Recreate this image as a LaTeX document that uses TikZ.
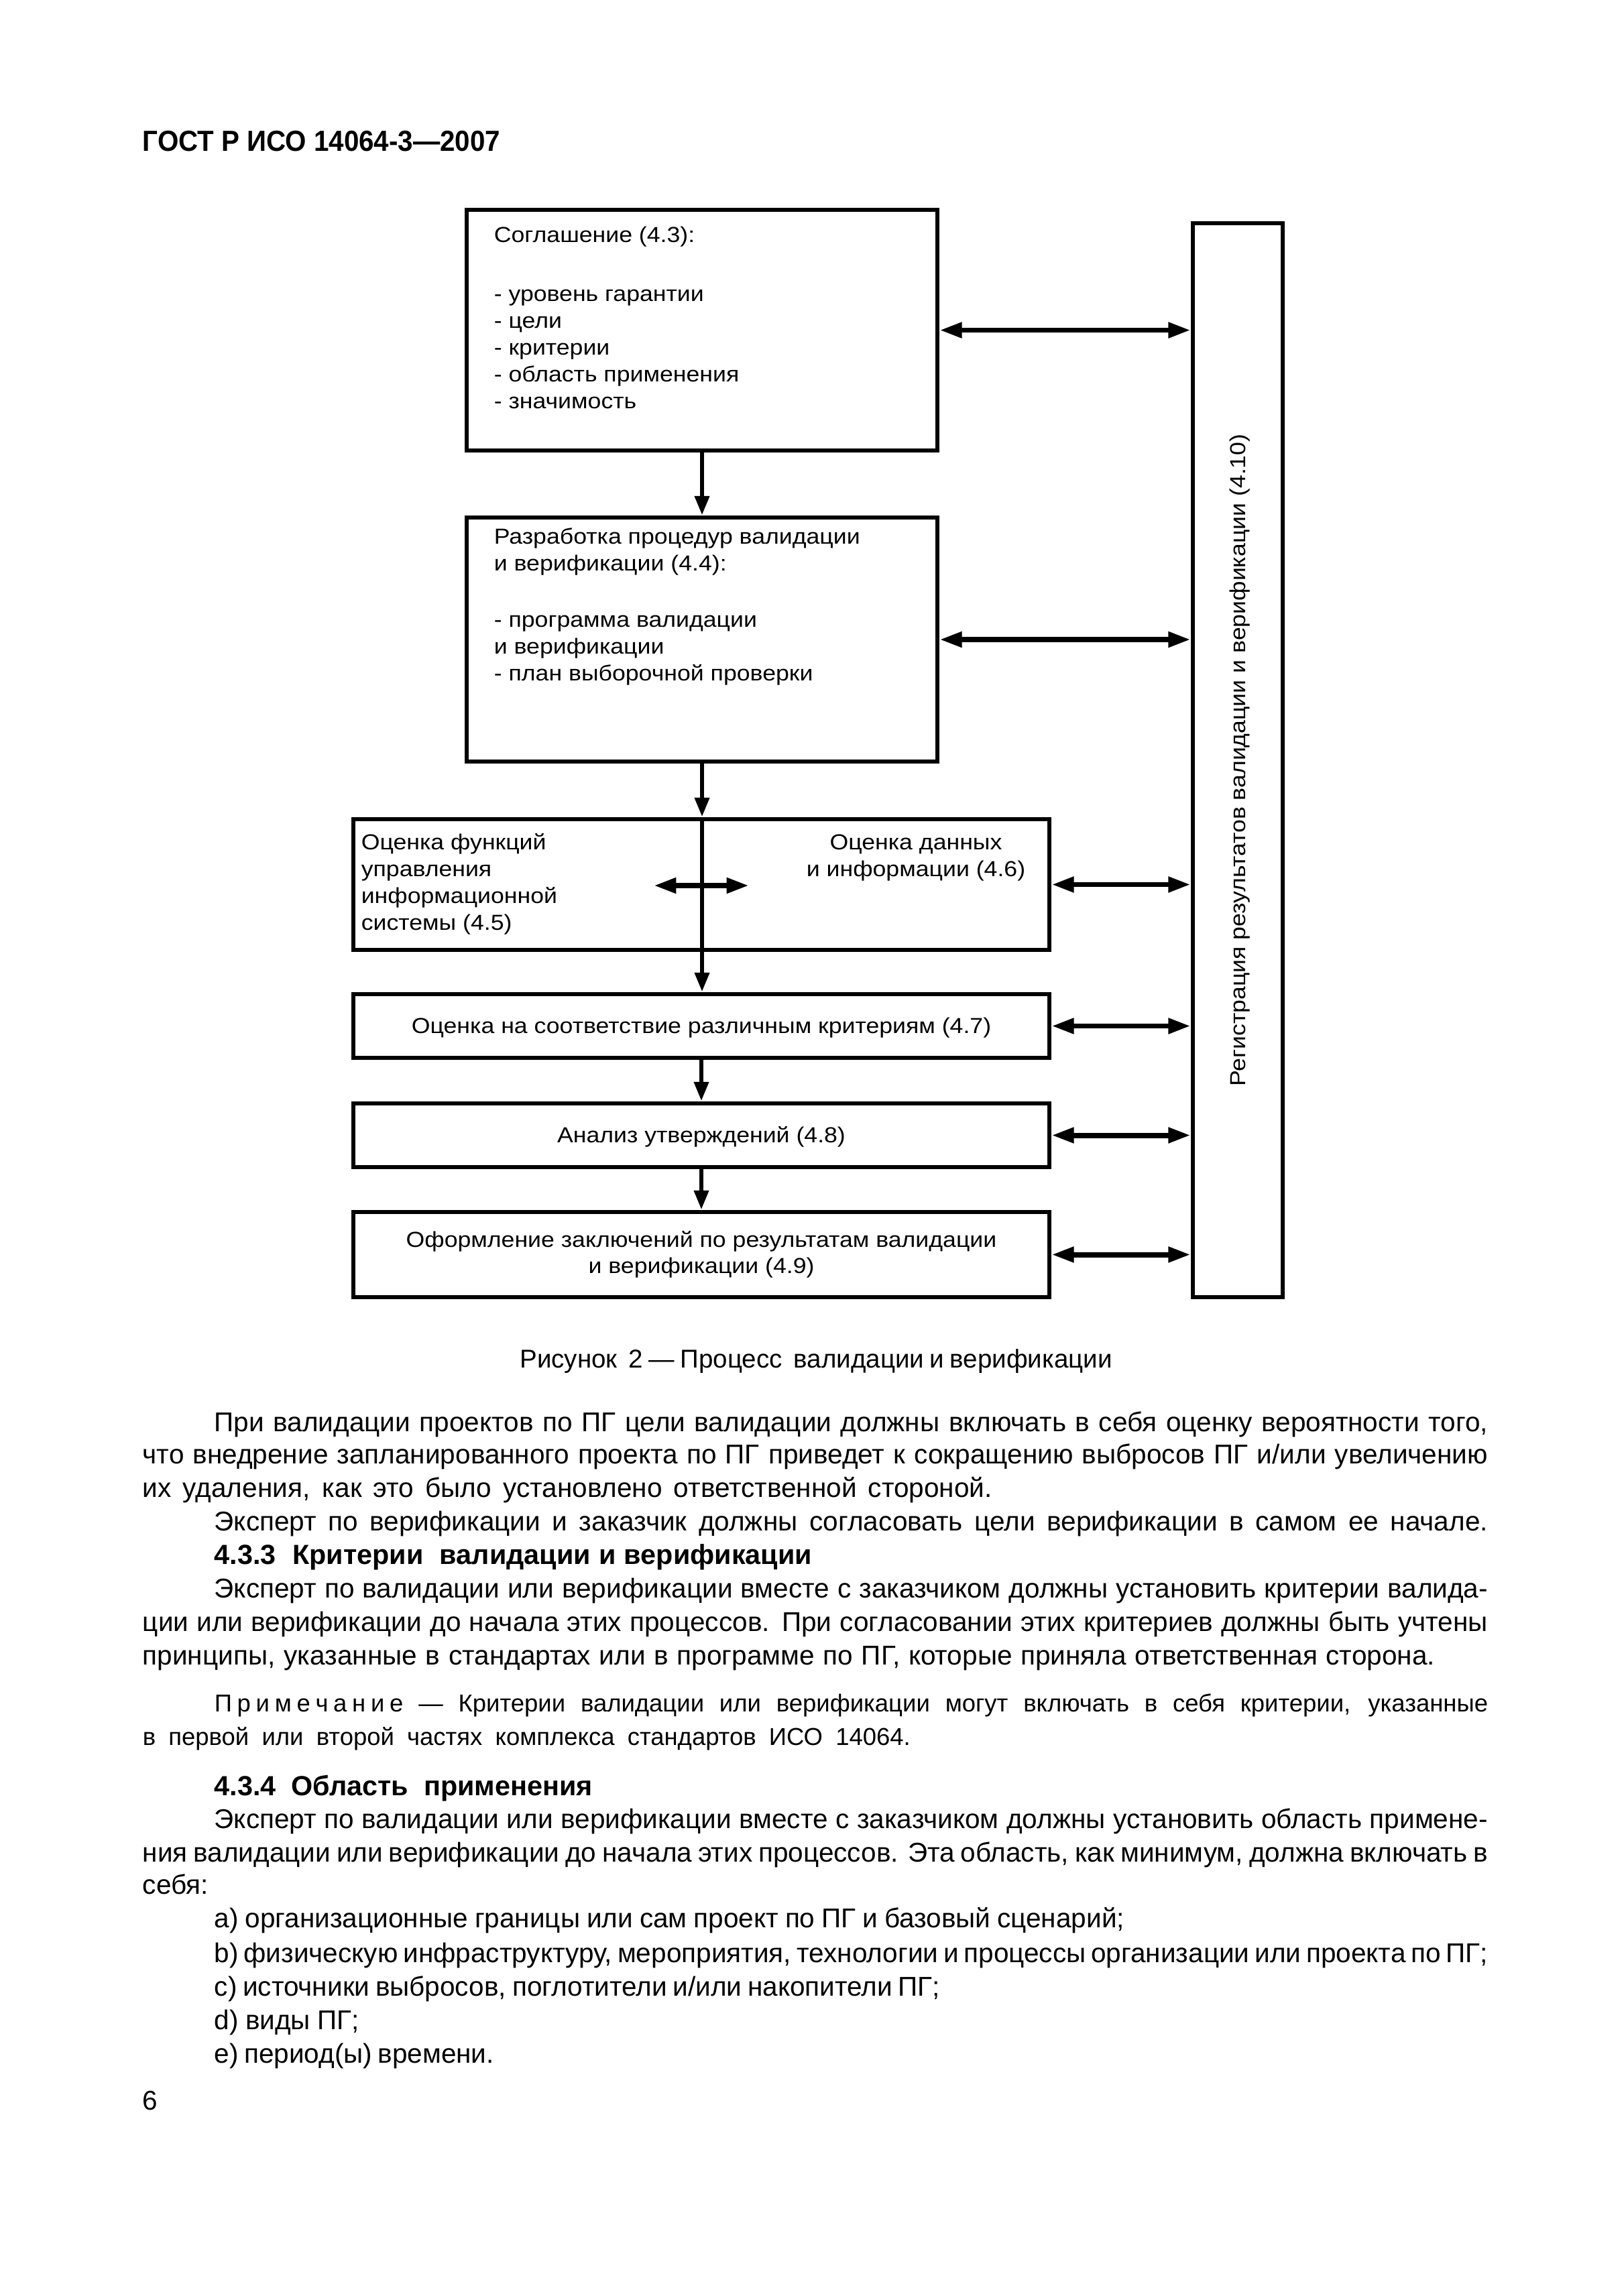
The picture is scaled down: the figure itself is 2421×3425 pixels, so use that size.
\documentclass[tikz,border=0pt]{standalone}
\usepackage{fontspec}
\setmainfont{Liberation Sans}
\newfontfamily\diagf[FakeStretch=1.1]{Liberation Sans}
\newfontfamily\headf[FakeStretch=0.93]{Liberation Sans}
\usetikzlibrary{arrows.meta}
\newdimen\pxu \pxu=0.086741mm
\newcommand{\jl}[2]{\makebox[#1\pxu][s]{#2}}
\newcommand{\spc}[1]{\kern1.9pt}
\tikzset{
  box/.style={draw, line width=0.56mm, inner sep=0pt},
  btxt/.style={inner sep=0pt, anchor=base west, font=\fontsize{10}{12}\selectfont},
  bbold/.style={inner sep=0pt, anchor=base west, font=\fontsize{10.2}{12}\selectfont\bfseries},
  ntxt/.style={inner sep=0pt, anchor=base west, font=\fontsize{9}{11}\selectfont},
  dtxt/.style={inner sep=0pt, anchor=base west, font=\diagf\fontsize{8}{9.6}\selectfont},
  dctr/.style={inner sep=0pt, anchor=base, font=\diagf\fontsize{8}{9.6}\selectfont},
  hdbl/.style={line width=0.69mm, {Triangle[length=2.9mm,width=1.9mm]}-{Triangle[length=2.9mm,width=1.9mm]}},
  vdn/.style={line width=0.6mm, -{Triangle[length=2.5mm,width=1.8mm]}}
}
\begin{document}
\begin{tikzpicture}[x=0.086741mm, y=-0.086741mm]
\useasboundingbox (0,0) rectangle (2421,3425);
\fill[white] (0,0) rectangle (2421,3425);

% header
\node[inner sep=0pt, anchor=base west, font=\headf\fontsize{10.7}{13}\selectfont\bfseries] (hdr) at (212,225) {ГОСТ Р ИСО 14064-3—2007};

% boxes
\node[box, minimum width=60.89mm, minimum height=31.14mm] (b1) at (1047,492.5) {};
\node[box, minimum width=60.89mm, minimum height=31.57mm] (b2) at (1047,954) {};
\node[box, minimum width=90.04mm, minimum height=16.91mm] (b3) at (1046,1319.5) {};
\node[box, minimum width=90.04mm, minimum height=8.24mm] (b4) at (1046,1530.5) {};
\node[box, minimum width=90.04mm, minimum height=8.24mm] (b5) at (1046,1693.5) {};
\node[box, minimum width=90.04mm, minimum height=11.02mm] (b6) at (1046,1871.5) {};
\node[box, minimum width=11.62mm, minimum height=138.96mm] (reg) at (1846,1134) {};

% box texts
\node[dtxt] (t1a) at (736,361) {Соглашение (4.3):};
\node[dtxt] (t1b) at (736,449) {- уровень гарантии};
\node[dtxt] (t1c) at (736,489) {- цели};
\node[dtxt] (t1d) at (736,529) {- критерии};
\node[dtxt] (t1e) at (736,569) {- область применения};
\node[dtxt] (t1f) at (736,609) {- значимость};

\node[dtxt] (t2a) at (736,811) {Разработка процедур валидации};
\node[dtxt] (t2b) at (736,851) {и верификации (4.4):};
\node[dtxt] (t2c) at (736,935) {- программа валидации};
\node[dtxt] (t2d) at (736,975) {и верификации};
\node[dtxt] (t2e) at (736,1015) {- план выборочной проверки};

\node[dtxt] (t3a) at (538,1267) {Оценка функций};
\node[dtxt] (t3b) at (538,1307) {управления};
\node[dtxt] (t3c) at (538,1347) {информационной};
\node[dtxt] (t3d) at (538,1387) {системы (4.5)};
\node[dctr] (t3e) at (1366,1267) {Оценка данных};
\node[dctr] (t3f) at (1366,1307) {и информации (4.6)};

\node[dctr] (t4) at (1046,1541) {Оценка на соответствие различным критериям (4.7)};
\node[dctr] (t5) at (1046,1704) {Анализ утверждений (4.8)};
\node[dctr] (t6a) at (1046,1860) {Оформление заключений по результатам валидации};
\node[dctr] (t6b) at (1046,1899) {и верификации (4.9)};

\node[inner sep=0pt, rotate=90, font=\diagf\fontsize{8}{9.6}\selectfont] (regt) at (1849,1134) {Регистрация результатов валидации и верификации (4.10)};

% connectors
\draw[vdn] (b1.south) -- (b2.north);
\draw[vdn] (b2.south) -- (b2.south |- b3.north);
\draw[vdn] (b2.south |- b3.north) -- (b2.south |- b4.north);
\draw[vdn] (b4.south) -- (b5.north);
\draw[vdn] (b5.south) -- (b6.north);

\draw[hdbl] (b1.east) -- (b1.east -| reg.west);
\draw[hdbl] (b2.east) -- (b2.east -| reg.west);
\draw[hdbl] (b3.east) -- (b3.east -| reg.west);
\draw[hdbl] (b4.east) -- (b4.east -| reg.west);
\draw[hdbl] (b5.east) -- (b5.east -| reg.west);
\draw[hdbl] (b6.east) -- (b6.east -| reg.west);

\coordinate (ia) at (975,1321);
\coordinate (ib) at (1117,1321);
\draw[hdbl] (ia) -- (ib);

% caption
\node[inner sep=0pt, anchor=base, font=\fontsize{9.5}{11}\selectfont] (cap) at (1217,2040) {\jl{883}{Рисунок\ \ 2 — Процесс\ \ валидации и верификации}};

% body text
\node[btxt] (l1) at (319,2135) {\jl{1899}{При валидации проектов по ПГ цели валидации должны включать в себя оценку вероятности того,}};
\node[btxt] (l2) at (212,2183) {\jl{2006}{что внедрение запланированного проекта по ПГ приведет к сокращению выбросов ПГ и/или увеличению}};
\node[btxt] (l3) at (212,2233) {\jl{1267}{их удаления, как это было установлено ответственной стороной.}};
\node[btxt] (l4) at (319,2283) {\jl{1899}{Эксперт по верификации и заказчик должны согласовать цели верификации в самом ее начале.}};
\node[bbold] (l5) at (319,2333) {\jl{891}{4.3.3\ \ Критерии\ \ валидации и верификации}};
\node[btxt] (l6) at (319,2383) {\jl{1899}{Эксперт по валидации или верификации вместе с заказчиком должны установить критерии валида-}};
\node[btxt] (l7) at (212,2433) {\jl{2006}{ции или верификации до начала этих процессов. При согласовании этих критериев должны быть учтены}};
\node[btxt] (l8) at (212,2483) {\jl{1927}{принципы, указанные в стандартах или в программе по ПГ, которые приняла ответственная сторона.}};

\node[ntxt] (n1) at (319,2553) {\jl{1899}{П\spc{}р\spc{}и\spc{}м\spc{}е\spc{}ч\spc{}а\spc{}н\spc{}и\spc{}е — Критерии валидации или верификации могут включать в себя критерии, указанные}};
\node[ntxt] (n2) at (212,2603) {\jl{1145}{в первой или второй частях комплекса стандартов ИСО 14064.}};

\node[bbold] (s4) at (319,2678) {\jl{564}{4.3.4\ \ Область\ \ применения}};
\node[btxt] (l12) at (319,2727) {\jl{1899}{Эксперт по валидации или верификации вместе с заказчиком должны установить область примене-}};
\node[btxt] (l13) at (212,2777) {\jl{2006}{ния валидации или верификации до начала этих процессов. Эта область, как минимум, должна включать в}};
\node[btxt] (l14) at (212,2825) {себя:};
\node[btxt] (la) at (319,2875) {\jl{1357}{а) организационные границы или сам проект по ПГ и базовый сценарий;}};
\node[btxt] (lb) at (319,2927) {\jl{1899}{b) физическую инфраструктуру, мероприятия, технологии и процессы организации или проекта по ПГ;}};
\node[btxt] (lc) at (319,2977) {\jl{1082}{c) источники выбросов, поглотители и/или накопители ПГ;}};
\node[btxt] (ld) at (319,3027) {\jl{216}{d) виды ПГ;}};
\node[btxt] (le) at (319,3077) {\jl{417}{e) период(ы) времени.}};

\node[btxt] (pg) at (212,3147) {6};
\end{tikzpicture}
\end{document}
